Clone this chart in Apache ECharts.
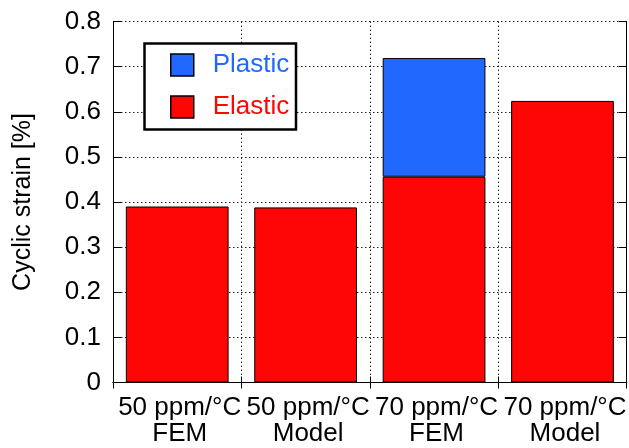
<!DOCTYPE html>
<html>
<head>
<meta charset="utf-8">
<script src="https://cdn.jsdelivr.net/npm/echarts@6/dist/echarts.min.js"></script>
<style>
  html, body { margin: 0; padding: 0; background: #fff; }
  #chart { width: 629px; height: 448px; }
</style>
</head>
<body>
<div id="chart"></div>
<script>
// Cyclic strain split into elastic and plastic parts, per case
const categories = ['50 ppm/°C\nFEM', '50 ppm/°C\nModel', '70 ppm/°C\nFEM', '70 ppm/°C\nModel'];
const elasticStrain = [0.390, 0.388, 0.456, 0.624];
const plasticStrain = ['-', '-', 0.263, '-'];
const yTicks = { min: 0, max: 0.8, step: 0.1 };

const FONT = "'Liberation Sans', Arial, Helvetica, sans-serif";
const BLUE = '#2168ff';
const RED = '#ff0606';
const dotted = { color: '#222', width: 1, type: [1.5, 2.5] };

const chart = echarts.init(document.getElementById('chart'), null, { renderer: 'canvas' });

chart.setOption({
  animation: false,
  backgroundColor: '#fff',
  textStyle: { fontFamily: FONT },
  grid: { left: 113, top: 21.5, width: 518, height: 361, containLabel: false },
  xAxis: [{
    type: 'category',
    data: categories,
    position: 'bottom',
    axisLine: { show: true, lineStyle: { color: '#000', width: 1 } },
    axisTick: { show: true, inside: true, length: 6, lineStyle: { color: '#000' } },
    axisLabel: { fontSize: 26, color: '#000', fontFamily: FONT, margin: 12, lineHeight: 26, interval: 0, padding: [0, 0, 0, 5] },
    splitLine: { show: true, lineStyle: dotted }
  }, {
    type: 'category',
    data: categories,
    position: 'top',
    axisLine: { show: true, lineStyle: { color: '#000', width: 1 } },
    axisTick: { show: true, inside: true, length: 6, lineStyle: { color: '#000' } },
    axisLabel: { show: false },
    splitLine: { show: false }
  }],
  yAxis: [{
    type: 'value',
    min: yTicks.min,
    max: yTicks.max,
    interval: yTicks.step,
    position: 'left',
    name: 'Cyclic strain [%]',
    nameLocation: 'middle',
    nameGap: 77,
    nameTextStyle: { fontSize: 25, color: '#000', fontFamily: FONT },
    axisLine: { show: true, lineStyle: { color: '#000', width: 1 } },
    axisTick: { show: true, inside: true, length: 8, lineStyle: { color: '#000' } },
    axisLabel: {
      fontSize: 26, color: '#000', fontFamily: FONT, margin: 12,
      formatter: v => (Math.abs(v) < 1e-9 ? '0' : v.toFixed(1))
    },
    splitLine: { show: true, lineStyle: dotted }
  }, {
    type: 'value',
    min: yTicks.min,
    max: yTicks.max,
    interval: yTicks.step,
    position: 'right',
    axisLine: { show: true, lineStyle: { color: '#000', width: 1 } },
    axisTick: { show: true, inside: true, length: 8, lineStyle: { color: '#000' } },
    axisLabel: { show: false },
    splitLine: { show: false }
  }],
  legend: {
    z: 10,
    orient: 'vertical',
    left: 170,
    top: 52,
    padding: 0,
    itemWidth: 23,
    itemHeight: 22,
    itemGap: 16,
    icon: 'rect',
    itemStyle: { borderColor: '#000', borderWidth: 1.5 },
    textStyle: { fontSize: 26, fontFamily: FONT, padding: [0, 0, 0, 14] },
    data: [
      { name: 'Plastic', textStyle: { color: BLUE } },
      { name: 'Elastic', textStyle: { color: RED } }
    ]
  },
  graphic: [{
    type: 'rect',
    z: 5,
    shape: { x: 144.5, y: 43.5, width: 151.5, height: 86 },
    style: { fill: '#fff', stroke: '#000', lineWidth: 2.5 }
  }],
  series: [{
    name: 'Elastic',
    type: 'bar',
    stack: 'strain',
    data: elasticStrain,
    barCategoryGap: '20%',
    itemStyle: { color: RED, borderColor: '#000', borderWidth: 1 }
  }, {
    name: 'Plastic',
    type: 'bar',
    stack: 'strain',
    data: plasticStrain,
    barCategoryGap: '20%',
    itemStyle: { color: BLUE, borderColor: '#000', borderWidth: 1 }
  }]
});
</script>
</body>
</html>
